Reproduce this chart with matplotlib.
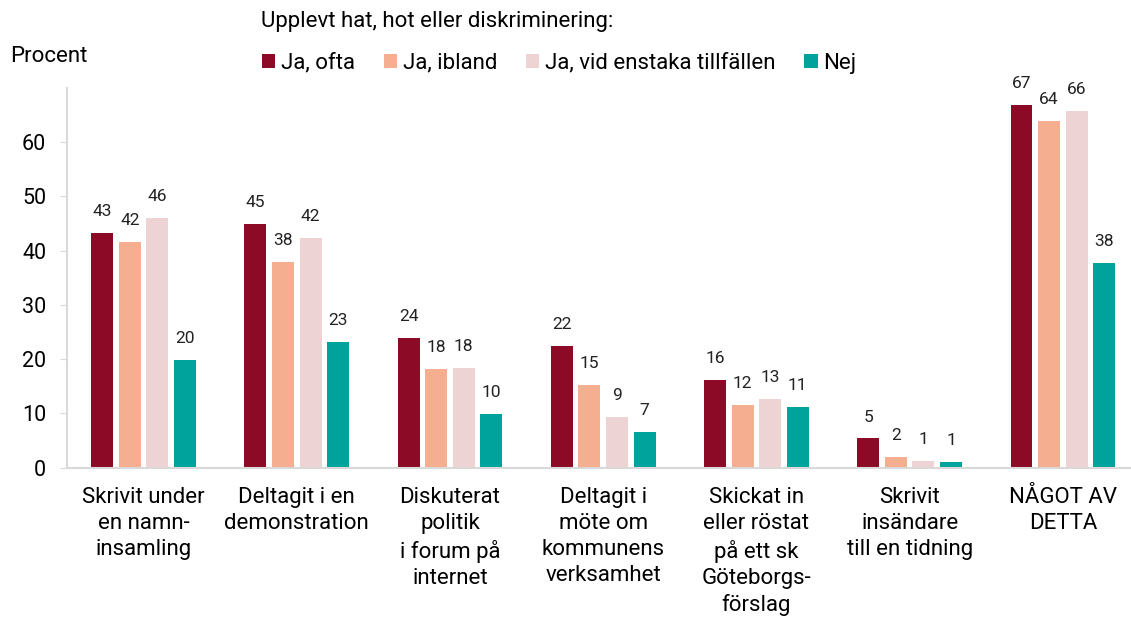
import matplotlib.pyplot as plt
import numpy as np

plt.rcParams['font.family'] = ['Roboto', 'DejaVu Sans']

# data
categories = ['Skrivit under\nen namn-\ninsamling', 'Deltagit i en\ndemonstration',
              'Diskuterat\npolitik\ni forum på\ninternet', 'Deltagit i\nmöte om\nkommunens\nverksamhet',
              'Skickat in\neller röstat\npå ett sk\nGöteborgs-\nförslag', 'Skrivit\ninsändare\ntill en tidning',
              'NÅGOT AV\nDETTA']
series_names = ['Ja, ofta', 'Ja, ibland', 'Ja, vid enstaka tillfällen', 'Nej']
ja_ofta = [43.3, 44.9, 23.9, 22.4, 16.2, 5.4, 66.9]
ja_ibland = [41.6, 38.0, 18.2, 15.3, 11.6, 2.0, 63.9]
ja_enstaka = [46.1, 42.4, 18.4, 9.4, 12.7, 1.2, 65.8]
nej = [19.9, 23.2, 9.9, 6.6, 11.2, 1.0, 37.7]
colors = ['#8C0A26', '#F6AE90', '#EDD3D4', '#00A39B']

fig = plt.figure(figsize=[11.31, 6.17], dpi=100)
ax = fig.add_axes([67 / 1131, 1 - 467.7 / 617, 1 - 67 / 1131, (467.7 - 88) / 617])

x = np.arange(len(categories))
pitch = 0.18
width = 0.143
for i, (vals, name, c) in enumerate(zip([ja_ofta, ja_ibland, ja_enstaka, nej], series_names, colors)):
    bars = ax.bar(x + (i - 1.5) * pitch, vals, width, color=c, label=name)
    ax.bar_label(bars, fmt='%.0f', padding=10, fontsize=12.5, color='#222222')

ax.set_xlim(-0.5, (1131 - 143) / 153.3)
ax.set_ylim(0, 70)
ax.set_yticks([0, 10, 20, 30, 40, 50, 60])
ax.set_xticks(x)
ax.set_xticklabels(categories, fontsize=16, linespacing=1.31, va='top')
ax.tick_params(axis='x', length=0, pad=14)
ax.tick_params(axis='y', length=5, pad=10, labelsize=15.5, color='#D9D9D9')
for s in ['top', 'right']:
    ax.spines[s].set_visible(False)
for s in ['left', 'bottom']:
    ax.spines[s].set_color('#D9D9D9')
    ax.spines[s].set_linewidth(1.5)

fig.text(10 / 1131, 1 - 57 / 617, 'Procent', fontsize=16, va='center')
fig.text(261 / 1131, 1 - 21 / 617, 'Upplevt hat, hot eller diskriminering:', fontsize=16, va='center')
fig.legend(loc='center left', bbox_to_anchor=(262 / 1131, 1 - 63 / 617), ncol=4, frameon=False,
           borderaxespad=0, borderpad=0, fontsize=16, handlelength=0.6, handleheight=0.6,
           handletextpad=0.25, columnspacing=1.3)

fig.savefig('out.png', dpi=100)
